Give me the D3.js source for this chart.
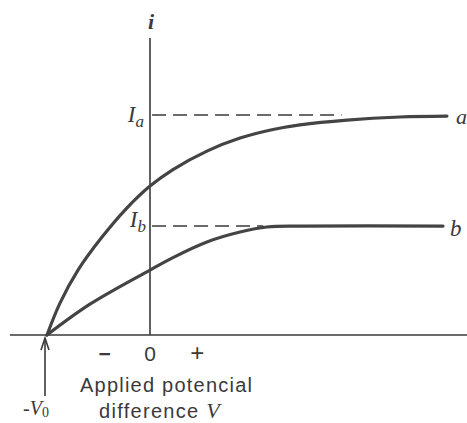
<!DOCTYPE html>
<html><head><meta charset="utf-8">
<script src="https://cdn.jsdelivr.net/npm/d3@7"></script>
<style>
html,body{margin:0;padding:0;background:#fff;}
svg{display:block;}
</style></head>
<body>
<script>
// Data (V in units of V0, i in units of Ia)
const curveA = [[-1,0],[-0.874,0.145],[-0.699,0.295],[-0.466,0.445],[-0.243,0.568],[0,0.677],[0.223,0.752],[0.553,0.836],[0.874,0.895],[1.194,0.934],[1.456,0.955],[1.913,0.977],[2.427,0.991],[2.883,0.995]];
const curveB = [[-1,0],[-0.583,0.14],[0,0.295],[0.223,0.352],[0.553,0.423],[0.874,0.468],[1.136,0.491],[1.456,0.495],[2.845,0.495]];
const levelA = 1.0, levelB = 0.495;
const tickValues = [-0.44, 0, 0.46];
const tickLabels = ["\u2212", "0", "+"];
const xLabelLines = ["Applied potencial", "difference "];

const W = 467, H = 423;
const svg = d3.select("body").append("svg").attr("width", W).attr("height", H);
const x = d3.scaleLinear().domain([-1, 3]).range([47, 459]);
const y = d3.scaleLinear().domain([0, 1]).range([335, 115]);
const ink = "#3a3a3a";

// axes
svg.append("line").attr("x1", x(-1.36)).attr("x2", W).attr("y1", y(0)).attr("y2", y(0))
  .attr("stroke", ink).attr("stroke-width", 1.6);
svg.append("line").attr("x1", x(0)).attr("x2", x(0)).attr("y1", y(0)).attr("y2", y(1.35))
  .attr("stroke", ink).attr("stroke-width", 1.6);

// dashed levels
svg.append("line").attr("x1", x(0.02)).attr("x2", x(1.86)).attr("y1", y(levelA)).attr("y2", y(levelA))
  .attr("stroke", ink).attr("stroke-width", 1.5).attr("stroke-dasharray", "14,7");
svg.append("line").attr("x1", x(0.02)).attr("x2", x(1.1)).attr("y1", y(levelB)).attr("y2", y(levelB))
  .attr("stroke", ink).attr("stroke-width", 1.5).attr("stroke-dasharray", "14,7");

// curves
const line = d3.line().x(d => x(d[0])).y(d => y(d[1])).curve(d3.curveCatmullRom.alpha(0.5));
svg.append("path").datum(curveA).attr("d", line).attr("fill", "none").attr("stroke", "#444").attr("stroke-width", 3.2).attr("stroke-linecap","round");
svg.append("path").datum(curveB).attr("d", line).attr("fill", "none").attr("stroke", "#444").attr("stroke-width", 3.2).attr("stroke-linecap","round");

// ticks
svg.selectAll("text.tick").data(tickValues).enter().append("text")
  .attr("class", "tick").attr("x", d => x(d)).attr("y", 361)
  .attr("text-anchor", "middle").attr("font-family", "Liberation Sans, Arial, sans-serif")
  .attr("font-size", (d,i)=> i===2 ? 24 : 21).attr("font-weight", (d,i)=> i===0 ? "bold" : "normal").attr("fill", ink)
  .text((d, i) => tickLabels[i]);

// x label
svg.append("text").attr("x", 80).attr("y", 392)
  .attr("font-family", "Liberation Sans, Arial, sans-serif").attr("font-size", 20).attr("fill", ink)
  .attr("textLength", 172).attr("lengthAdjust", "spacing")
  .text(xLabelLines[0]);
const t2 = svg.append("text").attr("x", 99).attr("y", 418)
  .attr("font-family", "Liberation Sans, Arial, sans-serif").attr("font-size", 20).attr("fill", ink);
t2.append("tspan").attr("textLength", 106).attr("lengthAdjust", "spacing").text(xLabelLines[1]);
t2.append("tspan").attr("font-family", "Liberation Serif, serif").attr("font-style", "italic").attr("font-size", 22).text("V");

// i label
svg.append("text").attr("x", x(0) + 1).attr("y", 29).attr("text-anchor", "middle")
  .attr("font-family", "Liberation Serif, serif").attr("font-style", "italic").attr("font-weight", "bold")
  .attr("font-size", 22).attr("fill", ink).text("i");

// Ia, Ib labels
function sublabel(xx, yy, main, sub) {
  const t = svg.append("text").attr("x", xx).attr("y", yy).attr("text-anchor", "end")
    .attr("font-family", "Liberation Serif, serif").attr("font-style", "italic").attr("fill", ink).attr("font-size", 23);
  t.append("tspan").text(main);
  t.append("tspan").attr("font-size", 17).attr("dy", 5).text(sub);
}
sublabel(144, y(levelA) + 7, "I", "a");
sublabel(146, y(levelB) + 1, "I", "b");

// curve labels
svg.append("text").attr("x", 456).attr("y", y(levelA) + 9).attr("font-family", "Liberation Serif, serif")
  .attr("font-style", "italic").attr("font-size", 22).attr("fill", ink).text("a");
svg.append("text").attr("x", 450).attr("y", y(levelB) + 10).attr("font-family", "Liberation Serif, serif")
  .attr("font-style", "italic").attr("font-size", 23).attr("fill", ink).text("b");

// -V0 arrow
const ax = x(-1) - 2;
svg.append("line").attr("x1", ax).attr("x2", ax).attr("y1", 396).attr("y2", y(0) + 3)
  .attr("stroke", ink).attr("stroke-width", 1.6);
svg.append("path").attr("d", `M${ax-4},${y(0)+15} L${ax},${y(0)+3} L${ax+4},${y(0)+15}`)
  .attr("fill", "none").attr("stroke", ink).attr("stroke-width", 1.6);
const tv = svg.append("text").attr("x", 36).attr("y", 415).attr("text-anchor", "middle")
  .attr("font-family", "Liberation Serif, serif").attr("font-style", "italic").attr("font-size", 20).attr("fill", ink);
tv.append("tspan").attr("font-style", "normal").text("-");
tv.append("tspan").text("V");
tv.append("tspan").attr("font-style", "normal").attr("font-size", 14).attr("dy", 2).text("0");
</script>
</body></html>
